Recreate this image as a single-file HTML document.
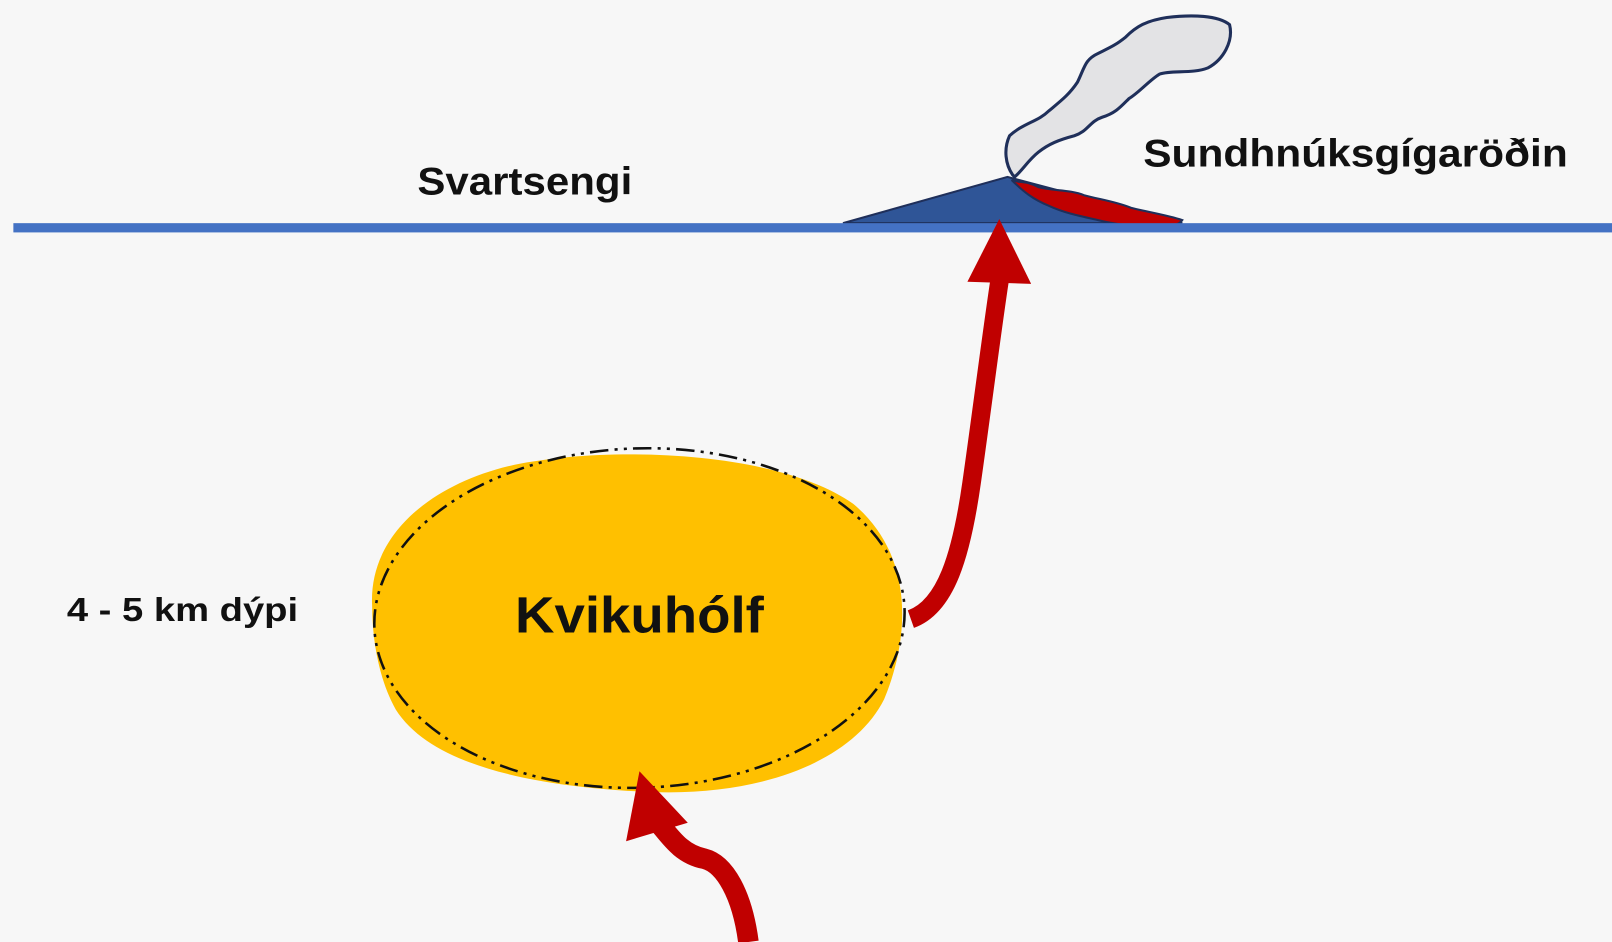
<!DOCTYPE html>
<html><head><meta charset="utf-8"><style>
html,body{margin:0;padding:0;background:#f7f7f7;}
svg{display:block}
text{font-family:"Liberation Sans",sans-serif;font-weight:bold;fill:#111}
</style></head><body>
<svg width="1612" height="942" viewBox="0 0 1568 916" preserveAspectRatio="none">
<rect width="1568" height="916" fill="#f7f7f7"/>
<!-- smoke -->
<path d="M985,170 C978,160 976,145 982,132 C995,120 1010,118 1020,108 C1032,98 1040,92 1048,80 C1055,66 1055,58 1068,52 C1080,46 1085,44 1095,36 C1105,26 1115,20 1135,17 C1160,14 1185,15 1196,24 C1200,40 1190,58 1175,66 C1160,72 1140,68 1128,72 C1118,78 1108,90 1098,96 C1090,104 1085,110 1072,114 C1060,118 1058,128 1045,132 C1030,136 1020,140 1010,148 C1000,156 995,165 987,172 Z" fill="#e3e3e5" stroke="#1f2f5a" stroke-width="3"/>
<!-- cone -->
<polygon points="820,217 980,172 1150,217" fill="#2f5597" stroke="#1f2f5a" stroke-width="2"/>
<!-- lava -->
<path d="M984,175 C992,178 1000,176 1010,182 C1025,186 1040,184 1055,190 C1070,194 1085,196 1100,202 C1115,206 1135,209 1150,214 C1145,222 1125,221 1108,220 C1095,219 1080,217 1068,214 C1050,210 1035,207 1020,200 C1005,194 995,186 984,175 Z" fill="#c00000" stroke="#1f2f5a" stroke-width="2"/>
<!-- ground line -->
<rect x="13" y="217" width="1555" height="9" fill="#4472c4"/>
<text x="406" y="189" font-size="38" textLength="209" lengthAdjust="spacingAndGlyphs">Svartsengi</text>
<text x="1112" y="162" font-size="38" textLength="413" lengthAdjust="spacingAndGlyphs">Sundhnúksgígaröðin</text>
<!-- blob -->
<path d="M362,590 C358,520 420,470 500,452 C600,432 760,440 830,490 C890,540 885,620 860,680 C830,740 740,775 630,770 C520,765 420,745 385,690 C368,660 362,620 362,590 Z" fill="#ffc000"/>
<ellipse cx="622" cy="601" rx="258" ry="165" transform="rotate(-2 622 601)" fill="none" stroke="#111" stroke-width="2.5" stroke-dasharray="18,6,3,6,3,6"/>
<text x="622" y="615" font-size="50" text-anchor="middle" textLength="242" lengthAdjust="spacingAndGlyphs">Kvikuhólf</text>
<text x="65" y="604" font-size="32" textLength="225" lengthAdjust="spacingAndGlyphs">4 - 5 km dýpi</text>
<!-- arrow 1 -->
<path d="M886,602 C920,590 935,540 945,470 C955,400 965,320 973,268" fill="none" stroke="#c00000" stroke-width="18"/>
<polygon points="972,213 1003,276 941,274" fill="#c00000"/>
<!-- arrow 2 -->
<path d="M728,916 C722,870 705,840 685,835 C660,830 650,810 636,795" fill="none" stroke="#c00000" stroke-width="20"/>
<polygon points="622,750 669,800 609,818" fill="#c00000"/>
</svg>
</body></html>
